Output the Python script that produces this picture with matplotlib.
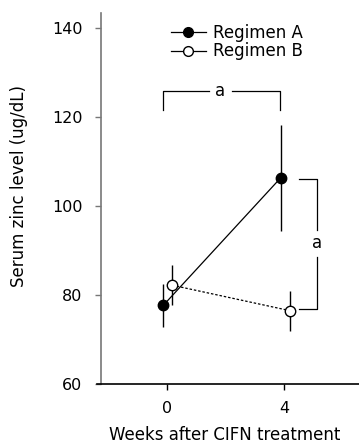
import matplotlib.pyplot as plt
from matplotlib.lines import Line2D

weeks = [0, 4]
regimen_a = [77.7, 106.3]
regimen_a_err = [4.8, 12.0]
regimen_b = [82.2, 76.5]
regimen_b_err = [4.5, 4.5]
yticks = [60, 80, 100, 120, 140]

plt.rcParams['font.family'] = 'DejaVu Sans'
fig = plt.figure(figsize=(3.59, 4.47), dpi=100)
ax = fig.add_axes([101 / 359, 63 / 447, 258 / 359, 371 / 447])

# small horizontal offsets so the error bars don't overlap
xa = [w - 0.13 for w in weeks]
xb = [w + 0.18 for w in weeks]

ax.errorbar(xb, regimen_b, yerr=regimen_b_err, fmt='o', color='black', mfc='white',
            mec='black', ms=7.5, mew=1, ecolor='black', elinewidth=1, capsize=0,
            ls=(0, (2, 1.5)), lw=0.9, zorder=2)
ax.errorbar(xa, regimen_a, yerr=regimen_a_err, fmt='o', color='black', mfc='black',
            ms=7.5, ecolor='black', elinewidth=1, capsize=0, ls='-', lw=0.9, zorder=3)

# significance brackets
ax.plot([-0.15, -0.15, 1.42], [121.7, 125.9, 125.9], color='black', lw=0.9)
ax.plot([2.2, 3.85, 3.85], [125.9, 125.9, 121.7], color='black', lw=0.9)
ax.text(1.81, 125.9, 'a', ha='center', va='center', fontsize=12)

ax.plot([4.5, 5.12, 5.12], [106.1, 106.1, 94.6], color='black', lw=0.9)
ax.plot([4.5, 5.12, 5.12], [76.8, 76.8, 88.6], color='black', lw=0.9)
ax.text(5.12, 91.8, 'a', ha='center', va='center', fontsize=12)

ax.set_xlim(-2.26, 6.55)
ax.set_ylim(60, 143.4)
ax.set_xticks(weeks)
ax.set_yticks(yticks)
ax.tick_params(labelsize=11.5, length=4.5, width=1)
ax.tick_params(axis='y', color='#777777', pad=9)
ax.tick_params(axis='x', pad=8)
ax.spines['top'].set_visible(False)
ax.spines['right'].set_visible(False)
ax.spines['left'].set_color('#777777')
ax.spines['left'].set_linewidth(1.2)
ax.spines['bottom'].set_linewidth(1.2)
ax.spines['bottom'].set_bounds(-2.4, 6.55)

ax.set_xlabel('Weeks after CIFN treatment', fontsize=12)
ax.set_ylabel('Serum zinc level (ug/dL)', fontsize=12)
ax.xaxis.set_label_coords(0.48, -0.113)
ax.yaxis.set_label_coords(-0.283, 0.534)

handles = [Line2D([], [], color='black', lw=0.9, marker='o', ms=7, mfc='black'),
           Line2D([], [], color='black', lw=0.9, marker='o', ms=7, mfc='white')]
ax.legend(handles, ['Regimen A', 'Regimen B'], loc='upper left',
          bbox_to_anchor=(0.222, 1.005), frameon=False, fontsize=12,
          handlelength=2.1, handletextpad=0.45, labelspacing=0.05, borderpad=0.25)

fig.savefig('out.png', dpi=100)
